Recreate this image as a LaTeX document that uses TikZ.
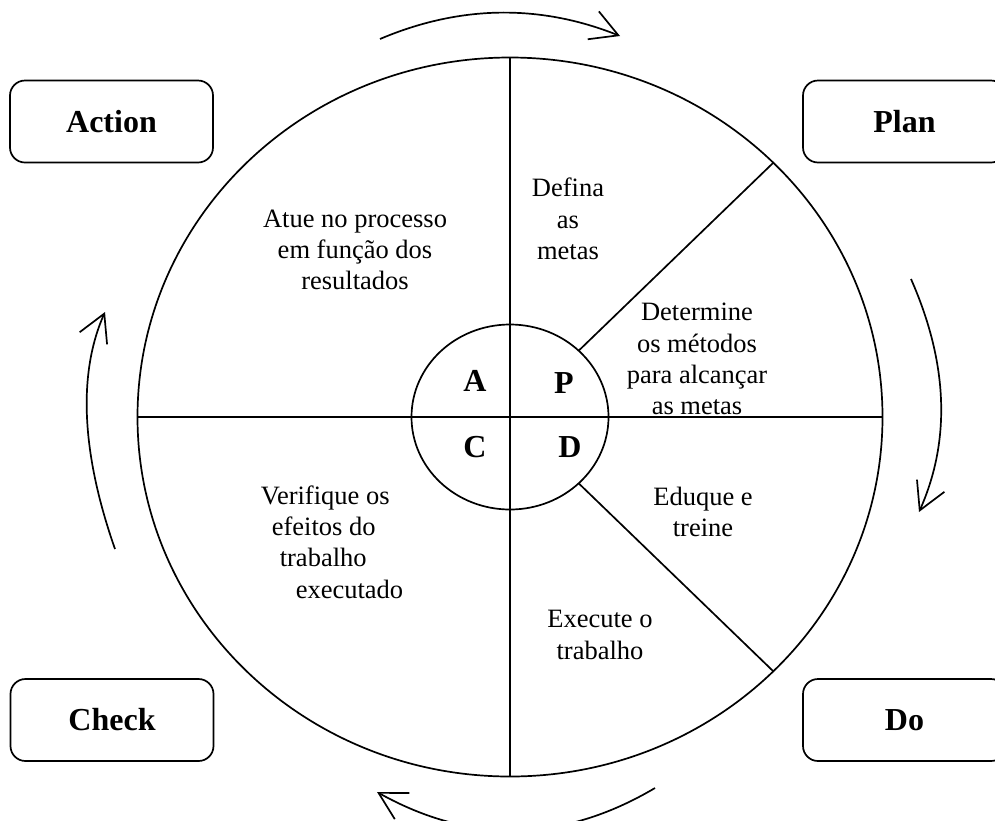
\documentclass[tikz,border=0pt]{standalone}
\usepackage{fontspec}
\setmainfont{Liberation Serif}
\usetikzlibrary{arrows.meta,shapes.geometric}

\tikzset{
  phase/.style={draw, rounded corners=15pt, minimum width=203pt, minimum height=82pt,
    font=\fontsize{32}{38}\selectfont\bfseries},
  quad/.style={font=\fontsize{32}{38}\selectfont\bfseries},
  task/.style={align=center, inner sep=0pt, font=\fontsize{26.5}{31.3}\selectfont},
  ring/.style={draw, ellipse, inner sep=0pt, outer sep=0pt},
  turn/.style={-{Straight Barb[length=27pt,width=30pt]}}
}

\begin{document}
\begin{tikzpicture}[x=1pt,y=1pt,line width=1.7pt]
\useasboundingbox (0,0) rectangle (995,-820);
% wheel
\node [ring, minimum width=745pt, minimum height=719pt] (wheel) at (510,-417) {};
\node [ring, minimum width=197pt, minimum height=185pt] (hub) at (510,-417) {};
\draw (wheel.north) -- (wheel.south);
\draw (wheel.west) -- (wheel.east);
\draw (hub.44) -- (wheel.44);
\draw (hub.-44) -- (wheel.-44);
\node [quad] (qa) at (475,-381) {A};
\node [quad] (qp) at (564,-383) {P};
\node [quad] (qc) at (475,-447) {C};
\node [quad] (qd) at (570,-447) {D};
% texts
\node [task] (goals) at (568,-219) {Defina\\as\\metas};
\node [task] (methods) at (697,-359) {Determine\\os m\'etodos\\para alcan\c{c}ar\\as metas};
\node [task] (train) at (703,-512) {Eduque e\\treine};
\node [task] (work) at (600,-635) {Execute o\\trabalho};
\node [task, align=left] (verify) at (332,-542) {Verifique os\\\hspace*{11pt}efeitos do\\\hspace*{19pt}trabalho\\\hspace*{35pt}executado};
\node [task] (act) at (355,-250) {Atue no processo\\em fun\c{c}\~ao dos\\resultados};
% corners
\node [phase] (action) at (111.5,-121.5) {Action};
\node [phase] (plan) at (904.5,-121.5) {Plan};
\node [phase] (check) at (112,-720) {Check};
\node [phase] (do) at (904.5,-720) {Do};
% cycle arrows
\coordinate (t1) at (380,-39);
\coordinate (t2) at (620,-36);
\coordinate (r1) at (911,-279);
\coordinate (r2) at (919,-512);
\coordinate (b1) at (655,-788);
\coordinate (b2) at (377,-792);
\coordinate (l1) at (115,-549);
\coordinate (l2) at (105,-312);
\draw [turn] (t1) .. controls (460,-5) and (540,-4) .. (t2);
\draw [turn] (r1) .. controls (948,-363) and (951,-440) .. (r2);
\draw [turn] (b1) .. controls (562,-843) and (470,-844) .. (b2);
\draw [turn] (l1) .. controls (81,-452) and (78,-373) .. (l2);
\end{tikzpicture}
\end{document}
